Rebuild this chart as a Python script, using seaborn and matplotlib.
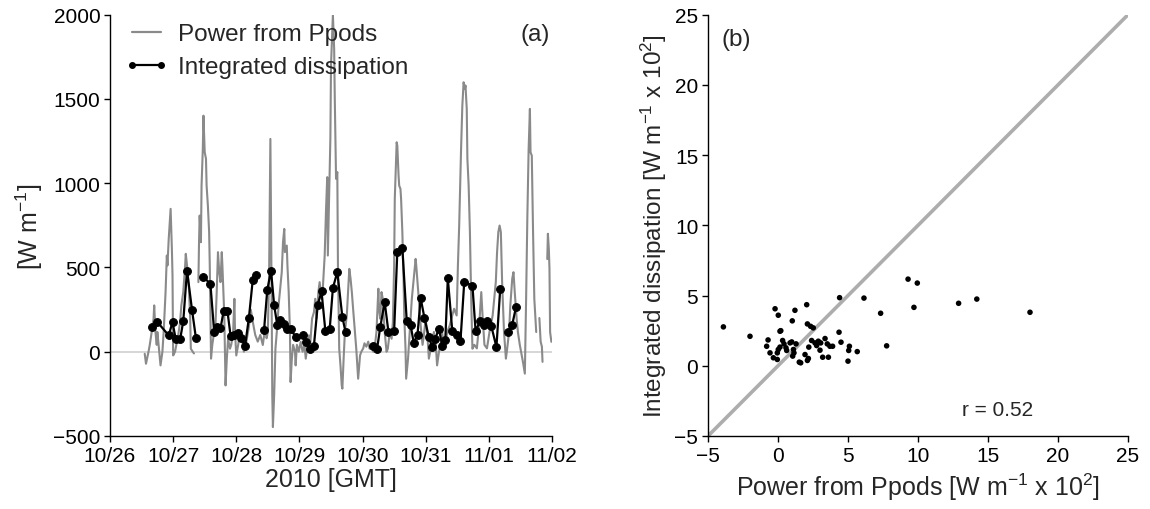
import numpy as np
import pandas as pd
import matplotlib
matplotlib.use("Agg")
import matplotlib.pyplot as plt
import matplotlib.dates as mdates
from matplotlib.lines import Line2D
import seaborn as sns

# ---------------- data ----------------
# Power from Ppods (day of October, 2010; 32 = Nov 1)
ppods_day = [
    26.55, 26.57, 26.61, 26.63, 26.66, 26.69, 26.70, 26.72, 26.74, 26.75, 26.78, 26.80, 26.83,
    26.85, 26.88, 26.90, 26.91, 26.93, 26.96, 26.98, 26.99, 27.00, 27.03, 27.06, 27.08, 27.11,
    27.13, 27.16, 27.19, 27.20, 27.22, 27.25, 27.27, 27.28, 27.31, 27.33,
    27.40, 27.41, 27.42, 27.44, 27.45, 27.47, 27.48, 27.50, 27.52, 27.53, 27.55, 27.57, 27.58,
    27.60, 27.62, 27.65, 27.67, 27.69, 27.71, 27.73, 27.75, 27.77, 27.78, 27.80, 27.81, 27.83,
    27.85, 27.87, 27.90, 27.92, 27.95, 27.97, 27.98, 28.00, 28.03, 28.06, 28.09, 28.12, 28.16,
    28.20, 28.23, 28.26, 28.30, 28.34, 28.38, 28.42, 28.46, 28.48, 28.50, 28.52, 28.54, 28.56,
    28.57, 28.58, 28.60, 28.62, 28.65, 28.67, 28.69, 28.72, 28.74, 28.76, 28.77, 28.80, 28.81,
    28.83, 28.85, 28.86, 28.88, 28.90, 28.93, 28.94, 28.96, 28.99, 29.02, 29.05, 29.08, 29.10,
    29.12, 29.15, 29.17, 29.20, 29.23, 29.25, 29.27, 29.30, 29.32, 29.35, 29.37, 29.40, 29.42,
    29.44, 29.45, 29.47, 29.49, 29.50, 29.52, 29.53, 29.55, 29.56, 29.58, 29.60, 29.61, 29.63,
    29.65, 29.67, 29.68, 29.70, 29.72, 29.75, 29.77, 29.79, 29.81, 29.83, 29.85, 29.88, 29.90,
    29.93, 29.96, 29.98, 30.01, 30.03, 30.06, 30.09, 30.11, 30.14, 30.17, 30.19, 30.22, 30.25,
    30.26, 30.28, 30.30, 30.32, 30.35, 30.38, 30.40, 30.43, 30.46, 30.48, 30.50, 30.51, 30.54,
    30.55, 30.57, 30.58, 30.60, 30.61, 30.63, 30.65, 30.66, 30.68, 30.69, 30.72, 30.74, 30.76,
    30.78, 30.81, 30.84, 30.85, 30.87, 30.89, 30.92, 30.95, 30.97, 31.00, 31.03, 31.05, 31.08,
    31.11, 31.13, 31.16, 31.18, 31.21, 31.24, 31.26, 31.29, 31.32, 31.34, 31.38, 31.42, 31.45,
    31.49, 31.51, 31.53, 31.54, 31.56, 31.58, 31.60, 31.62, 31.63, 31.65, 31.66, 31.68, 31.70,
    31.72, 31.74, 31.77, 31.81, 31.85, 31.88, 31.90, 31.93, 31.97, 32.01, 32.06, 32.11, 32.13,
    32.15, 32.17, 32.19, 32.21, 32.24, 32.27, 32.29, 32.32, 32.34, 32.37, 32.39, 32.41, 32.44,
    32.46, 32.49, 32.51, 32.54, 32.57, 32.59, 32.61, 32.63, 32.65, 32.66, 32.68, 32.70, 32.72,
    32.75,
    32.80, 32.82, 32.84, 32.85,
    32.925, 32.935, 32.95, 32.96, 32.97, 32.99,
]
ppods_val = [
    -12, -71, 0, 41, 117, 196, 275, 117, 41, 117, 0, -81, 0,
    117, 354, 571, 512, 670, 848, 610, 453, -22, 0, 59, 97, 176,
    275, 354, 512, 581, 512, 374, 196, 18, 0, -10,
    413, 650, 808, 650, 986, 1204, 1401, 1184, 1145, 986, 868, 710, 512,
    -41, 41, 117, 156, 354, 591, 472, 413, 591, 512, 314, 215, -200,
    -41, 77, 18, 41, 117, 314, 117, -22, 41, 117, 77, 0, 60,
    150, 250, 180, 100, 60, 100, 40, 150, 80, 117, 472, 1263, 314,
    -257, -447, -257, 18, 156, 275, 354, 472, 650, 729, 591, 630, 512,
    354, 117, -180, -41, 41, 0, -81, 41, 0, 59, 0, 41, -41,
    18, 97, 41, 196, 235, 314, 196, 354, 413, 314, 374, 571, 828,
    1036, 571, 907, 1263, 1698, 1895, 2000, 1797, 1500, 1026, 1066, 512, 18,
    -81, -200, -219, -41, 117, 215, 354, 492, 433, 354, 255, 117, 18,
    -160, -22, 0, 20, 50, 30, 60, 18, 41, 0, 18, 117, 374,
    255, 196, 354, 314, 117, 0, 18, 117, 77, 176, 512, 907, 1243,
    1223, 1046, 986, 966, 907, 710, 413, 215, 18, -160, -41, 77, 196,
    314, 433, 551, 512, 413, 314, 156, 41, 97, 196, 77, -41, 18,
    77, 117, 41, -81, 0, 41, 117, 18, 59, 117, 156, 215, 255,
    215, 512, 749, 907, 1204, 1460, 1599, 1560, 1580, 1441, 1145, 986, 710,
    314, 18, 41, 20, 176, 354, 215, 41, 20, 117, 215, 413, 591,
    710, 749, 710, 413, 117, -41, 18, 117, 275, 433, 472, 354, 196,
    117, 41, 0, -61, -130, 314, 808, 1204, 1441, 1184, 1164, 710, 314,
    117,
    200, 60, 30, -60,
    550, 700, 610, 492, 117, 59,
]
# first day of each continuous piece of the Ppods record
ppods_piece_start = [26.55, 27.40, 32.80, 32.925]

# Integrated dissipation time series
diss_day = [
    26.67, 26.75, 26.93, 26.99, 27.04, 27.11, 27.16, 27.22, 27.30, 27.36,
    27.48, 27.59, 27.65, 27.70, 27.75, 27.80, 27.86, 27.91, 27.97, 28.02, 28.08, 28.14, 28.20,
    28.26, 28.32,
    28.44, 28.49, 28.55, 28.60, 28.65, 28.70, 28.75, 28.80, 28.86, 28.94, 29.05, 29.11, 29.16,
    29.23, 29.29, 29.35, 29.41, 29.48, 29.53, 29.60, 29.68, 29.73,
    30.17, 30.23, 30.28, 30.35, 30.41, 30.50, 30.55, 30.63, 30.70, 30.76, 30.81, 30.87, 30.92,
    30.98, 31.05, 31.10, 31.15, 31.21, 31.26, 31.31, 31.35, 31.42, 31.49, 31.55, 31.61, 31.74,
    31.79, 31.86, 31.92, 31.97, 32.04, 32.12, 32.18,
    32.31, 32.37, 32.43,
]
diss_val = [
    146, 176, 97, 176, 77, 73, 180, 482, 245, 83,
    443, 403, 117, 146, 140, 241, 241, 93, 97, 111, 83, 37, 202,
    423, 457,
    130, 364, 482, 275, 156, 186, 166, 136, 136, 87, 97, 58, 18,
    37, 279, 358, 126, 136, 378, 473, 206, 117,
    37, 18, 146, 295, 117, 126, 591, 615, 180, 160, 53, 101, 318,
    200, 87, 28, 77, 136, 37, 67, 437, 126, 101, 61, 413, 393,
    123, 180, 156, 180, 150, 28, 374,
    117, 160, 265,
]
diss_piece_start = [26.67, 27.48, 28.44, 30.17, 32.31]

# Scatter: Ppods power vs integrated dissipation [W m^-1 x 10^2]
scatter_power = [
    -3.9, -2.0, 1.02, 0.14, 0.2, -0.71, -0.81, -0.57, -0.33, -0.05, -0.05, 0.02, 0.14, 0.33,
    0.43, 0.57, 0.62, 0.86, 0.98, 1.29, 1.1, 1.14, 1.05, 1.52, 1.62, 1.93, 2.1, 2.17, 2.1,
    2.33, 2.52, 2.2, 2.4, 2.64, 2.88, 3.05, 2.76, 3.0, 3.19, 3.6, 3.36, 3.52, 3.71, 3.9,
    4.36, 4.5, 5.1, 5.05, 5.0, 5.66, -0.21, 0.02, 1.21, 2.05, 4.4, 6.14, 9.29, 9.95, 7.33,
    9.71, 7.76, 12.9, 14.2, 18.0,
]
scatter_diss = [
    2.77, 2.1, 3.2, 2.46, 2.5, 1.84, 1.39, 0.92, 0.57, 0.45, 0.92, 1.16, 1.33, 1.8,
    1.56, 1.28, 1.09, 1.63, 1.7, 1.56, 1.16, 0.92, 0.69, 0.26, 0.21, 0.8, 0.38, 0.52, 2.98,
    2.81, 2.7, 1.33, 1.8, 1.63, 1.75, 1.63, 1.44, 1.11, 0.61, 0.61, 1.94, 1.56, 1.39, 1.39,
    2.39, 1.68, 1.39, 1.09, 0.33, 1.01, 4.06, 3.6, 3.95, 4.35, 4.85, 4.82, 6.17, 5.89, 3.74,
    4.16, 1.42, 4.45, 4.75, 3.81,
]
r_value = 0.52

# ---------------- frames ----------------
base = pd.Timestamp("2010-10-26")


def to_frame(days, vals, starts):
    d = np.asarray(days, dtype=float)
    return pd.DataFrame({
        "time": base + pd.to_timedelta(d - 26, unit="D"),
        "val": vals,
        "seg": np.searchsorted(starts, d, side="right"),
    })


df_p = to_frame(ppods_day, ppods_val, ppods_piece_start)
df_d = to_frame(diss_day, diss_val, diss_piece_start)
df_s = pd.DataFrame({"power": scatter_power, "diss": scatter_diss})

# ---------------- style ----------------
sns.set_theme(style="ticks")
plt.rcParams["font.family"] = ["Liberation Sans", "DejaVu Sans"]
plt.rcParams["mathtext.default"] = "regular"
plt.rcParams["axes.unicode_minus"] = True

W, H = 1150, 510
fig = plt.figure(figsize=(W / 100, H / 100), dpi=100)
ax1 = fig.add_axes([110 / W, 1 - 437 / H, 442 / W, 421.3 / H])
ax2 = fig.add_axes([708 / W, 1 - 437 / H, 420 / W, 421.3 / H])

GRAY = "#8a8a8a"

# ---- panel (a) ----
ax1.axhline(0, color="#cfcfcf", lw=1.2, zorder=0)
sns.lineplot(data=df_p, x="time", y="val", units="seg", estimator=None,
             color=GRAY, lw=1.5, ax=ax1, legend=False)
sns.lineplot(data=df_d, x="time", y="val", units="seg", estimator=None,
             color="black", lw=1.6, marker="o", markersize=5.6,
             markeredgecolor="black", ax=ax1, legend=False)
ax1.set_xlim(base, base + pd.Timedelta(days=7))
ax1.set_ylim(-500, 2000)
ax1.set_yticks(range(-500, 2001, 500))
ax1.xaxis.set_major_locator(mdates.DayLocator())
ax1.xaxis.set_major_formatter(mdates.DateFormatter("%m/%d"))
ax1.set_xlabel("2010 [GMT]", fontsize=18, labelpad=2)
ax1.set_ylabel("[W m$^{-1}$]", fontsize=18, labelpad=6)
handles = [Line2D([], [], color=GRAY, lw=1.6),
           Line2D([], [], color="black", lw=1.6, marker="o", markersize=4)]
ax1.legend(handles, ["Power from Ppods", "Integrated dissipation"],
           loc="upper left", bbox_to_anchor=(-0.005, 1.02), frameon=False,
           fontsize=17.5, numpoints=2, handlelength=1.8, handletextpad=0.4,
           labelspacing=0.45, borderaxespad=0.3)
ax1.text(0.995, 0.954, "(a)", transform=ax1.transAxes, ha="right", va="center",
         fontsize=17.5)

# ---- panel (b) ----
ax2.axline((0, 0), slope=1, color="#adadad", lw=2.6, zorder=0)
sns.scatterplot(data=df_s, x="power", y="diss", color="black", s=16,
                edgecolor="none", ax=ax2, zorder=3)
ax2.set_xlim(-5, 25)
ax2.set_ylim(-5, 25)
ax2.set_xticks(range(-5, 26, 5))
ax2.set_yticks(range(-5, 26, 5))
ax2.set_xlabel("Power from Ppods [W m$^{-1}$ x 10$^{2}$]", fontsize=18, labelpad=4)
ax2.set_ylabel("Integrated dissipation [W m$^{-1}$ x 10$^{2}$]", fontsize=17.5, labelpad=4)
ax2.text(15.7, -3.1, f"r = {r_value:.2f}", ha="center", va="center", fontsize=15)
ax2.text(0.033, 0.942, "(b)", transform=ax2.transAxes, ha="left", va="center",
         fontsize=17.5)

for ax in (ax1, ax2):
    sns.despine(ax=ax)
    for s in ("left", "bottom"):
        ax.spines[s].set_color("black")
        ax.spines[s].set_linewidth(1.0)
    ax.tick_params(direction="out", length=4, width=1, color="black",
                   labelsize=15, labelcolor="black", pad=3)

fig.savefig("out.png", dpi=100)
